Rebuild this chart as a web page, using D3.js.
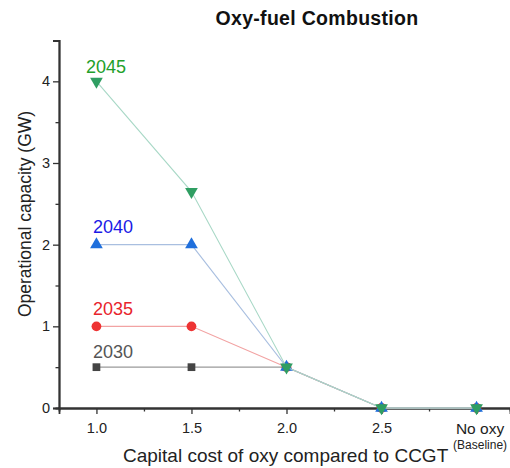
<!DOCTYPE html>
<html>
<head>
<meta charset="utf-8">
<script src="https://cdn.jsdelivr.net/npm/d3@7"></script>
<style>
  body { margin: 0; background: #fff; }
  text { font-family: Arial, "Liberation Sans", sans-serif; }
</style>
</head>
<body>
<script>
// ================= Data ======================
const costs = [1.0, 1.5, 2.0, 2.5, 3.0];
const costLabels = ["1.0", "1.5", "2.0", "2.5", "No oxy"];
const years = ["2030", "2035", "2040", "2045"];
const cap2030 = [0.5, 0.5, 0.5, 0, 0];
const cap2035 = [1, 1, 0.5, 0, 0];
const cap2040 = [2, 2, 0.5, 0, 0];
const cap2045 = [4, 2.65, 0.5, 0, 0];
const yTicks = [0, 1, 2, 3, 4];

const series = [
  {name: years[0], values: cap2030, symbol: d3.symbolSquare, size: 60, mark: "#444444", line: "#9a9a9a", label: "#555555", dx: -3.5, dy: -9},
  {name: years[1], values: cap2035, symbol: d3.symbolCircle, size: 75, mark: "#ee3333", line: "#f2a3a3", label: "#e8242c", dx: -3.5, dy: -11},
  {name: years[2], values: cap2040, symbol: d3.symbolTriangle, size: 70, mark: "#1f6fdc", line: "#a9bfe0", label: "#1a1ae6", dx: -3.5, dy: -12},
  {name: years[3], values: cap2045, symbol: d3.symbolTriangle, size: 70, mark: "#2f9e62", line: "#a8d8c6", label: "#22a02a", dx: -10.5, dy: -8, flip: true}
];

// ================== Layout ===========================
const W = 510, H = 468;
const svg = d3.select("body").append("svg")
  .attr("width", W).attr("height", H);

const x = d3.scaleLinear().domain([0.803, 3.176]).range([59, 510]);
const y = d3.scaleLinear().domain([0, 4.5]).range([408, 40.5]);

// title
svg.append("text")
  .attr("x", 317).attr("y", 25)
  .attr("text-anchor", "middle")
  .attr("font-weight", "bold")
  .attr("font-size", 19.5)
  .attr("letter-spacing", 0.3)
  .attr("fill", "#111")
  .text("Oxy-fuel Combustion");

// ===================== Axis: Y =======================
const yAxis = svg.append("g").attr("transform", "translate(59,0)");
yAxis.call(d3.axisLeft(y).tickValues(yTicks).tickFormat(d3.format("d")).tickSize(6).tickPadding(3));
yAxis.append("g").call(d3.axisLeft(y).tickValues([0.5, 1.5, 2.5, 3.5, 4.5]).tickFormat("").tickSize(3.5));

// ===================== Axis: X =======================
const xAxis = svg.append("g").attr("transform", "translate(0,408)");
xAxis.call(d3.axisBottom(x).tickValues(costs).tickFormat((d, i) => costLabels[i]).tickSize(6).tickPadding(9));
xAxis.append("g").call(d3.axisBottom(x).tickValues([1.25, 1.75, 2.25, 2.75]).tickFormat("").tickSize(3.5));

svg.selectAll(".domain").attr("stroke", "#333").attr("stroke-width", 1.8);
svg.selectAll(".tick line").attr("stroke", "#333").attr("stroke-width", 1.3);
svg.selectAll(".tick text").attr("font-size", 14.5).attr("fill", "#222")
  .attr("font-family", "Arial, 'Liberation Sans', sans-serif");
// "No oxy" is a bit bigger and shifted in the original
xAxis.selectAll(".tick text").filter((d, i) => i === 4).attr("font-size", 15.5).attr("dx", 3);

// sub label under "No oxy"
svg.append("text")
  .attr("x", x(costs[4]) + 3.5).attr("y", 449)
  .attr("text-anchor", "middle")
  .attr("font-size", 12)
  .attr("fill", "#222")
  .text("(Baseline)");

// axis titles
svg.append("text")
  .attr("x", 123).attr("y", 462)
  .attr("font-size", 19)
  .attr("fill", "#222")
  .text("Capital cost of oxy compared to CCGT");

svg.append("text")
  .attr("transform", "translate(31,214) rotate(-90)")
  .attr("text-anchor", "middle")
  .attr("font-size", 17.5)
  .attr("fill", "#222")
  .text("Operational capacity (GW)");

// ==================== Series ===========================
const line = d3.line()
  .x((d, i) => x(costs[i]))
  .y(d => y(d));

series.forEach(s => {
  const g = svg.append("g");
  g.append("path")
    .attr("fill", "none")
    .attr("stroke", s.line)
    .attr("stroke-width", 1.1)
    .attr("d", line(s.values));
  g.selectAll("path.pt")
    .data(s.values)
    .join("path")
    .attr("class", "pt")
    .attr("d", d3.symbol().type(s.symbol).size(s.size))
    .attr("fill", s.mark)
    .attr("transform", (d, i) => `translate(${x(costs[i])},${y(d)})` + (s.flip ? " rotate(180)" : ""));
  g.append("text")
    .attr("x", x(costs[0]) + s.dx)
    .attr("y", y(s.values[0]) + s.dy)
    .attr("font-size", 18)
    .attr("fill", s.label)
    .text(s.name);
});
</script>
</body>
</html>
